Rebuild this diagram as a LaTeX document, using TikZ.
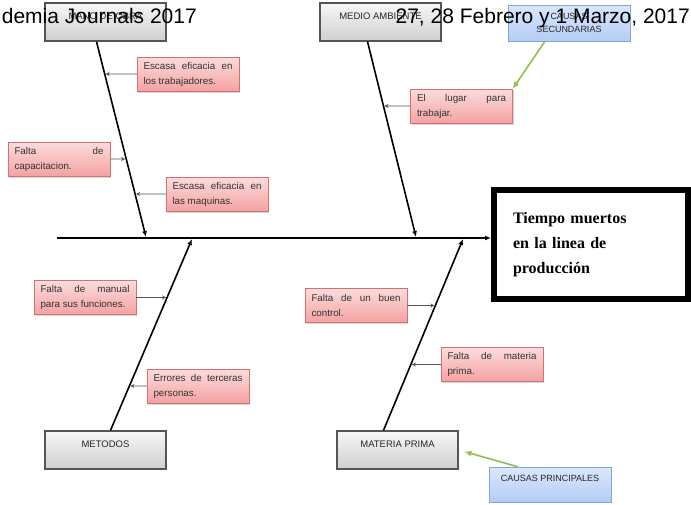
\documentclass[tikz,border=0pt]{standalone}
\usepackage{fontspec}
\setmainfont{Liberation Sans}
\newfontfamily\titlefont{Liberation Serif}
\usetikzlibrary{arrows.meta, shadows}
\definecolor{redtop}{RGB}{252,220,220}
\definecolor{redbot}{RGB}{244,162,162}
\definecolor{redline}{RGB}{214,112,112}
\definecolor{bluetop}{RGB}{218,231,252}
\definecolor{bluebot}{RGB}{180,205,245}
\definecolor{blueline}{RGB}{130,165,220}
\definecolor{greyline}{RGB}{85,85,85}
\definecolor{leaf}{RGB}{146,190,80}

\begin{document}
\begin{tikzpicture}[x=1pt, y=-1pt,
    cause/.style={draw=greyline, line width=1.3pt, top color=gray!6, bottom color=gray!38,
                  minimum width=121pt, inner xsep=2pt, inner ysep=2pt,
                  text height=14pt, text depth=20pt, text=gray!30!black,
                  font=\fontsize{9.5}{11}\selectfont,
                  drop shadow={opacity=.25, shadow xshift=1pt, shadow yshift=-1pt}},
    tag/.style={draw=blueline, top color=bluetop, bottom color=bluebot,
                minimum width=122pt, align=center, text=gray!30!black,
                font=\fontsize{9}{13}\selectfont},
    note/.style={draw=redline, top color=redtop, bottom color=redbot,
                 text width=89pt, inner xsep=6.5pt, inner ysep=3pt, minimum height=34pt,
                 align=justify, text=black!80, font=\fontsize{9.8}{15}\selectfont,
                 drop shadow={opacity=.3, shadow xshift=1pt, shadow yshift=-1.5pt}},
    goal/.style={draw, line width=6pt, minimum width=194pt, minimum height=109pt,
                 text width=156pt, inner xsep=19pt, align=left,
                 font=\titlefont\bfseries\fontsize{16}{25}\selectfont},
    head/.style={inner sep=0pt, font=\fontsize{21}{24}\selectfont},
    bone/.style={-{Latex[length=6pt,width=5pt]}, line width=1.6pt},
    twig/.style={-{Stealth[length=4pt,width=4pt]}, draw=gray!65!black, line width=.9pt, shorten >=1pt},
    link/.style={-{Latex[length=7pt,width=6pt]}, draw=leaf, line width=1.6pt}
  ]
  \useasboundingbox (0,0) rectangle (691,504);

  % causas principales
  \node[cause] (mano)    at (105.5,22)  {MANO DE OBRA};
  \node[cause] (medio)   at (380.5,22)  {MEDIO AMBIENTE};
  \node[cause] (metodos) at (105.5,450) {METODOS};
  \node[cause] (materia) at (397.5,450) {MATERIA PRIMA};

  \node[tag, minimum height=36pt] (sec) at (569,23) {CAUSAS\\SECUNDARIAS};
  \node[tag, text height=11pt, text depth=17pt, inner ysep=3.5pt] (prin) at (550,484.5) {CAUSAS PRINCIPALES};

  % efecto
  \node[goal] (efecto) at (591,244.5) {Tiempo muertos\\en la linea de\\producción};

  \coordinate (cola) at (57,238);
  \coordinate (j1) at (146,237);
  \coordinate (j2) at (416,237);
  \coordinate (j3) at (192,239);
  \coordinate (j4) at (463,239);
  \coordinate (m0) at ([xshift=-9pt]mano.south);
  \coordinate (a0) at ([xshift=-13pt]medio.south);
  \coordinate (t0) at ([xshift=5pt]metodos.north);
  \coordinate (p0) at ([xshift=-14pt]materia.north);

  \draw[bone] (cola) -- (cola -| efecto.west);
  \draw[bone] (m0) -- (j1);
  \draw[bone] (a0) -- (j2);
  \draw[bone] (t0) -- (j3);
  \draw[bone] (p0) -- (j4);

  % causas secundarias
  \node[note] (tr)   at (188,74)    {Escasa eficacia en\linebreak los trabajadores.};
  \node[note] (cap)  at (59,159)    {Falta de\linebreak capacitacion.};
  \node[note] (maq)  at (217,194)   {Escasa eficacia en\linebreak las maquinas.};
  \node[note] (lug)  at (461.5,106) {El lugar para\linebreak trabajar.};
  \node[note] (man)  at (85,297.5)  {Falta de manual\linebreak para sus funciones.};
  \node[note] (err)  at (198,386)   {Errores de terceras\linebreak personas.};
  \node[note] (ctl)  at (356,305.5) {Falta de un buen\linebreak control.};
  \node[note] (fmat) at (492,364.5) {Falta de materia\linebreak prima.};

  \draw[twig] (tr.west)   -- (intersection of m0--j1 and tr.west--tr.east);
  \draw[twig] (cap.east)  -- (intersection of m0--j1 and cap.west--cap.east);
  \draw[twig] (maq.west)  -- (intersection of m0--j1 and maq.west--maq.east);
  \draw[twig] (lug.west)  -- (intersection of a0--j2 and lug.west--lug.east);
  \draw[twig] (man.east)  -- (intersection of t0--j3 and man.west--man.east);
  \draw[twig] (err.west)  -- (intersection of t0--j3 and err.west--err.east);
  \draw[twig] (ctl.east)  -- (intersection of p0--j4 and ctl.west--ctl.east);
  \draw[twig] (fmat.west) -- (intersection of p0--j4 and fmat.west--fmat.east);

  \draw[link] ([xshift=-24pt]sec.south) -- (lug.north east);
  \draw[link, shorten >=6pt] ([xshift=-32pt]prin.north) -- (materia.east);

  % encabezado de pagina
  \node[head, anchor=base east] (hdl) at (197,23) {demia Journals 2017};
  \node[head, anchor=base east] (hdr) at (690,23) {27, 28 Febrero y 1 Marzo, 2017};
\end{tikzpicture}
\end{document}
